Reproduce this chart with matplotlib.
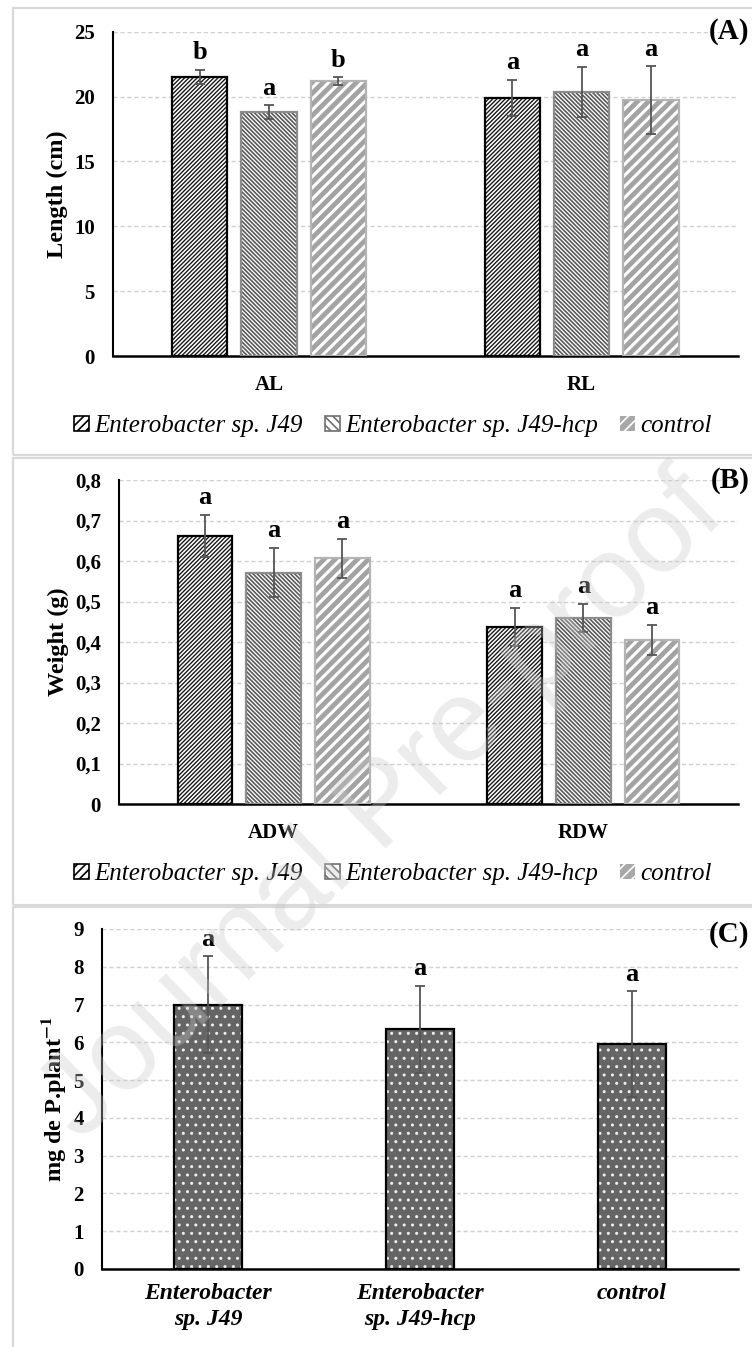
import numpy as np
import matplotlib.pyplot as plt
from matplotlib.patches import Patch, Rectangle

plt.rcParams['font.family'] = ['Liberation Serif', 'DejaVu Serif']
plt.rcParams['mathtext.fontset'] = 'stix'
plt.rcParams['hatch.linewidth'] = 1.2

# data
series = ['Enterobacter sp. J49', 'Enterobacter sp. J49-hcp', 'control']

cats_a = ['AL', 'RL']
len_j49 = [21.5, 19.9]
len_hcp = [18.8, 20.35]
len_ctl = [21.2, 19.75]
len_j49_err = [0.55, 1.4]
len_hcp_err = [0.53, 1.95]
len_ctl_err = [0.3, 2.6]
len_letters = [['b', 'a'], ['a', 'a'], ['b', 'a']]

cats_b = ['ADW', 'RDW']
w_j49 = [0.662, 0.437]
w_hcp = [0.571, 0.46]
w_ctl = [0.607, 0.406]
w_j49_err = [0.052, 0.048]
w_hcp_err = [0.061, 0.035]
w_ctl_err = [0.048, 0.037]
w_letters = [['a', 'a'], ['a', 'a'], ['a', 'a']]

cats_c = ['Enterobacter\nsp. J49', 'Enterobacter\nsp. J49-hcp', 'control']
p_vals = [7.0, 6.34, 5.95]
p_err = [1.28, 1.16, 1.4]
p_letters = ['a', 'a', 'a']

# styles: face, hatch colour, hatch, hatch width, outline
styles = [
    dict(fc='white', hc='#1a1a1a', hatch='/' * 8, hw=1.0, ec='black'),
    dict(fc='white', hc='#5a5a5a', hatch='\\' * 8, hw=1.2, ec='#8c8c8c'),
    dict(fc='#a3a3a3', hc='white', hatch='///', hw=2.2, ec='#b4b4b4'),
]

fig = plt.figure(figsize=(7.52, 13.47), dpi=100)

# panel frames
for y0, y1 in [(8, 455), (458, 905), (907, 1360)]:
    fig.patches.append(Rectangle((13 / 752, 1 - y1 / 1347), 760 / 752, (y1 - y0) / 1347,
                                 transform=fig.transFigure, fill=False,
                                 edgecolor='#d9d9d9', lw=1.6))


def hatched_bar(ax, x, h, w, fc, hc, hatch, hw, ec, lw=1.6):
    bars = ax.bar(x, h, w, color=fc, edgecolor=hc, hatch=hatch, lw=0, zorder=2)
    for b in bars:
        if hasattr(b, 'set_hatch_linewidth'):
            b.set_hatch_linewidth(hw)
    ax.bar(x, h, w, fill=False, edgecolor=ec, lw=lw, zorder=3)


def style_axes(ax, ticks, ticklabels, ylabel):
    ax.set_yticks(ticks)
    ax.set_yticklabels(ticklabels, fontsize=15, fontweight='bold')
    ax.set_ylim(ticks[0], ticks[-1])
    ax.grid(axis='y', linestyle=(0, (3, 2)), color='#d0d0d0', lw=1)
    ax.set_axisbelow(True)
    for s in ['top', 'right']:
        ax.spines[s].set_visible(False)
    ax.spines['left'].set_linewidth(1.5)
    ax.spines['bottom'].set_linewidth(1.8)
    ax.tick_params(axis='y', length=0, pad=13)
    ax.tick_params(axis='x', length=0)
    ax.set_ylabel(ylabel, fontsize=17.5, fontweight='bold', labelpad=4)


def grouped(ax, cats, vals, errs, letters, ticks, ticklabels, ylabel, tag, leg_x):
    x = np.arange(len(cats))
    w = 0.177
    step = 0.222
    for i, (v, e, st) in enumerate(zip(vals, errs, styles)):
        xi = x + (i - 1) * step
        hatched_bar(ax, xi, v, w, st['fc'], st['hc'], st['hatch'], st['hw'], st['ec'])
        ax.errorbar(xi, v, yerr=e, fmt='none', ecolor='#555555', elinewidth=1.3,
                    capsize=3.5, capthick=1.3, zorder=4)
        for k in range(len(cats)):
            ax.annotate(letters[i][k], (xi[k], v[k] + e[k]), xytext=(0, 4),
                        textcoords='offset points', ha='center', va='bottom',
                        fontsize=19, fontweight='bold')
    ax.set_xlim(-0.5, 1.5)
    ax.set_xticks(x)
    ax.set_xticklabels(cats, fontsize=15, fontweight='bold')
    style_axes(ax, ticks, ticklabels, ylabel)
    ax.tick_params(axis='x', pad=14)
    ax.text(1.018, 1.0, tag, transform=ax.transAxes, ha='right', va='center',
            fontsize=21, fontweight='bold')
    handles = [Patch(facecolor='white', edgecolor='black', hatch='////', lw=1.2),
               Patch(facecolor='white', edgecolor='#707070', hatch='\\\\\\\\', lw=1.2),
               Patch(facecolor='#a8a8a8', edgecolor='white', hatch='///', lw=0)]
    ax.legend(handles, series, loc='center left', bbox_to_anchor=(leg_x, -0.217),
              ncol=3, frameon=False, prop=dict(style='italic', size=18), borderpad=0,
              handlelength=0.6, handleheight=0.6, handletextpad=0.2, columnspacing=0.9)


ax_a = fig.add_axes([112.7 / 752, 1 - 356 / 1347, (738 - 112.7) / 752, (356 - 31.7) / 1347])
grouped(ax_a, cats_a, [len_j49, len_hcp, len_ctl], [len_j49_err, len_hcp_err, len_ctl_err],
        len_letters, [0, 5, 10, 15, 20, 25], ['0', '5', '10', '15', '20', '25'],
        'Length (cm)', '(A)', -0.082)

ax_b = fig.add_axes([119 / 752, 1 - 804 / 1347, (738 - 119) / 752, (804 - 480) / 1347])
b_ticks = [0, 0.1, 0.2, 0.3, 0.4, 0.5, 0.6, 0.7, 0.8]
grouped(ax_b, cats_b, [w_j49, w_hcp, w_ctl], [w_j49_err, w_hcp_err, w_ctl_err],
        w_letters, b_ticks, ['0', '0,1', '0,2', '0,3', '0,4', '0,5', '0,6', '0,7', '0,8'],
        'Weight (g)', '(B)', -0.093)

ax_c = fig.add_axes([102 / 752, 1 - 1269 / 1347, (738 - 102) / 752, (1269 - 929) / 1347])
xc = np.arange(len(cats_c))
hatched_bar(ax_c, xc, p_vals, 0.32, '#656565', '#eeeeee', '..', 1.0, 'black')
ax_c.errorbar(xc, p_vals, yerr=p_err, fmt='none', ecolor='#555555', elinewidth=1.3,
              capsize=3.5, capthick=1.3, zorder=4)
for k in range(len(cats_c)):
    ax_c.annotate(p_letters[k], (xc[k], p_vals[k] + p_err[k]), xytext=(0, 4),
                  textcoords='offset points', ha='center', va='bottom',
                  fontsize=19, fontweight='bold')
ax_c.set_xlim(-0.5, 2.5)
ax_c.set_xticks(xc)
ax_c.set_xticklabels(cats_c, fontsize=17, fontweight='bold', style='italic', linespacing=1.35)
style_axes(ax_c, list(range(10)), [str(i) for i in range(10)],
           r'mg de P.plant$\mathbf{^{-1}}$')
ax_c.tick_params(axis='x', pad=10)
ax_c.text(1.018, 0.985, '(C)', transform=ax_c.transAxes, ha='right', va='center',
          fontsize=21, fontweight='bold')

# watermark
fig.text(0.51, 0.40, 'Journal Pre-proof', rotation=44, fontsize=84, color='#c8c8c8',
         alpha=0.35, ha='center', va='center', family='Liberation Sans', zorder=10)

fig.savefig('out.png', dpi=100)
